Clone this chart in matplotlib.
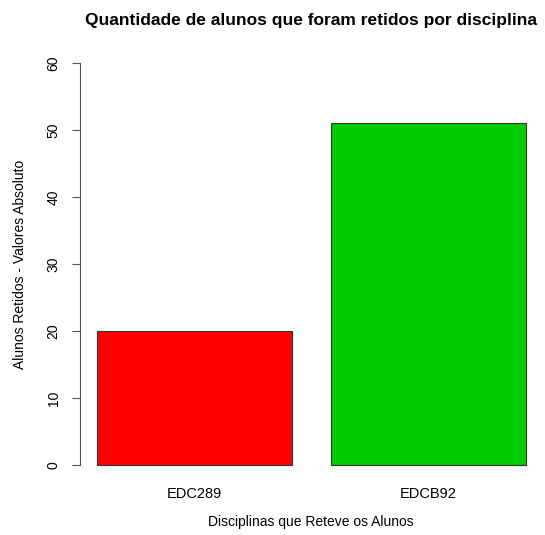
import matplotlib
matplotlib.use("Agg")
import matplotlib.pyplot as plt

categories = ["EDC289", "EDCB92"]
values = [20, 51]
colors = ["#FF0000", "#00CD00"]
yticks = [0, 10, 20, 30, 40, 50, 60]

plt.rcParams['font.family'] = ['Liberation Sans', 'DejaVu Sans']

fig = plt.figure(figsize=(5.45, 5.35), dpi=100)
W, H = 545, 535
ax = fig.add_axes([80 / W, (H - 481) / H, (543 - 80) / W, (481 - 47) / H])

lefts = [0.2 + i * 1.2 for i in range(len(values))]
centers = [l + 0.5 for l in lefts]
ax.bar(centers, values, width=1.0, color=colors, edgecolor="#333333", linewidth=0.8)

ax.set_xlim(0.112, 2.488)
ax.set_ylim(-2.4, 62.4)

for s in ["top", "right", "bottom"]:
    ax.spines[s].set_visible(False)
ax.spines["left"].set_bounds(0, 60)
ax.spines["left"].set_color("#555555")
ax.spines["left"].set_linewidth(0.8)

ax.set_yticks(yticks)
ax.set_yticklabels([str(t) for t in yticks], rotation=90, va="center", fontsize=10)
ax.tick_params(axis="y", length=6, width=0.8, color="#555555", pad=8)
ax.set_xticks(centers)
ax.set_xticklabels(categories, fontsize=10.5)
ax.tick_params(axis="x", length=0, pad=4)

ax.set_ylabel("Alunos Retidos - Valores Absoluto", fontsize=10, labelpad=14)
fig.text(311 / W, 1 - 522 / H, "Disciplinas que Reteve os Alunos", fontsize=10,
         ha="center", va="center")
fig.text(311 / W, 1 - 20 / H, "Quantidade de alunos que foram retidos por disciplina",
         fontsize=12.5, fontweight="bold", ha="center", va="center")

fig.savefig("out.png", dpi=100)
